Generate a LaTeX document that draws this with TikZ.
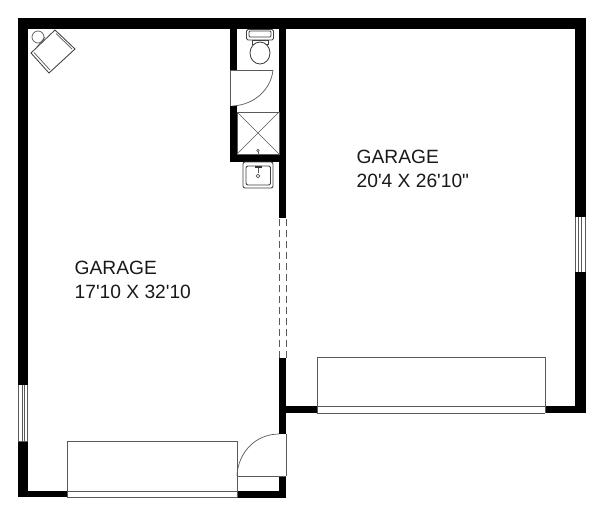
\documentclass[tikz,border=0pt]{standalone}
\usepackage{fontspec}
\newfontfamily\plansans{Liberation Sans}
\tikzset{
  x=1pt,y=-1pt,
  wall/.style={fill=black,draw=none},
  thin line/.style={draw=black!65,line width=0.7pt},
  fixture/.style={draw=black!75,line width=0.85pt,fill=white},
  label/.style={font=\plansans\fontsize{19.2}{24}\selectfont,align=left,anchor=north west,inner sep=0pt,text=black!90}
}
\begin{document}
\begin{tikzpicture}
\useasboundingbox (0,0) rectangle (600,511);
% outer and inner walls
\fill[wall] (18,18) rectangle (586,29);
\fill[wall] (18,18) rectangle (28,385);
\fill[wall] (18,441) rectangle (28,497);
\fill[wall] (18,491) rectangle (67,497);
\fill[wall] (237,491) rectangle (286,498);
\fill[wall] (279,476) rectangle (286,498);
\fill[wall] (279,358) rectangle (286,434);
\fill[wall] (279,18) rectangle (286,218);
\fill[wall] (286,406) rectangle (317,413);
\fill[wall] (545,406) rectangle (586,413);
\fill[wall] (575,18) rectangle (586,217);
\fill[wall] (575,272) rectangle (586,413);
% bathroom walls
\fill[wall] (230,29) rectangle (237,70);
\fill[wall] (230,106) rectangle (237,162);
\fill[wall] (230,154) rectangle (286,162);
% windows
\draw[thin line] (18.5,385) -- (18.5,441) (22,385) -- (22,441) (24.5,385) -- (24.5,441) (27.5,385) -- (27.5,441) (18,441) -- (28,441);
\draw[thin line] (575,217) -- (575,272) (578,217) -- (578,272) (581.5,217) -- (581.5,272) (585.5,217) -- (585.5,272);
% passage between the garages
\draw[thin line,dash pattern=on 7pt off 4pt] (279.5,219) -- (279.5,358);
\draw[thin line,dash pattern=on 7pt off 4pt] (286,219) -- (286,358);
% garage doors
\draw[thin line] (67,491) -- (67,441) -- (237,441) -- (237,498);
\draw[thin line] (67,491) -- (237,491) (67,497) -- (237,497) (67,491) -- (67,497);
\draw[thin line] (317,413) -- (317,357) -- (545,357) -- (545,413);
\draw[thin line] (317,406.5) -- (545,406.5) (317,413) -- (545,413);
% man door
\draw[thin line] (237,476) -- (286,476);
\draw[thin line] (286,434) -- (286,476);
\draw[thin line] (279,434) .. controls (256,434) and (238,452) .. (237,476);
% bathroom door
\draw[thin line] (230,70) -- (273,70);
\draw[thin line] (230,70) -- (230,106);
\draw[thin line] (273,70) .. controls (271,89) and (255,105) .. (232,106);
% shower
\draw[thin line] (237,112) rectangle (279,154);
\draw[thin line] (237,112) -- (279,154) (279,112) -- (237,154);
\draw[fixture,line width=0.6pt] (258,150.5) circle (1.2);
\draw[thin line] (258,151.5) -- (258,154);
% toilet
\draw[fixture,rounded corners=1.5pt] (246.5,29.5) rectangle (273.5,40);
\draw[fixture,rounded corners=1pt] (249,31) rectangle (271,37);
\draw[fixture] (252,40) rectangle (268,44);
\draw[fixture] (260,53) ellipse (10 and 11);
% sink
\draw[fixture,rounded corners=2pt] (243,162) rectangle (273,188);
\draw[fixture,rounded corners=2pt] (246,166) rectangle (270.5,185);
\fill[black!80] (254.5,165.5) rectangle (261.5,168);
\draw[thin line] (258,168) -- (258,173);
\draw[thin line] (258,176) circle (1.8);
% water heater and tank
\draw[thin line] (38,37) circle (6);
\draw[thin line] (37,47) -- (45,37) (40,49) -- (47,41);
\draw[fixture] (55,30) -- (75,49) -- (49,73) -- (31,53) -- cycle;
\draw[thin line] (34,52.5) -- (50,70) (56,33.5) -- (72,49);
% labels
\node[label] (left) at (74.5,261) {GARAGE\\17'10 X 32'10};
\node[label] (right) at (356.5,150) {GARAGE\\20'4 X 26'10"};
\end{tikzpicture}
\end{document}
